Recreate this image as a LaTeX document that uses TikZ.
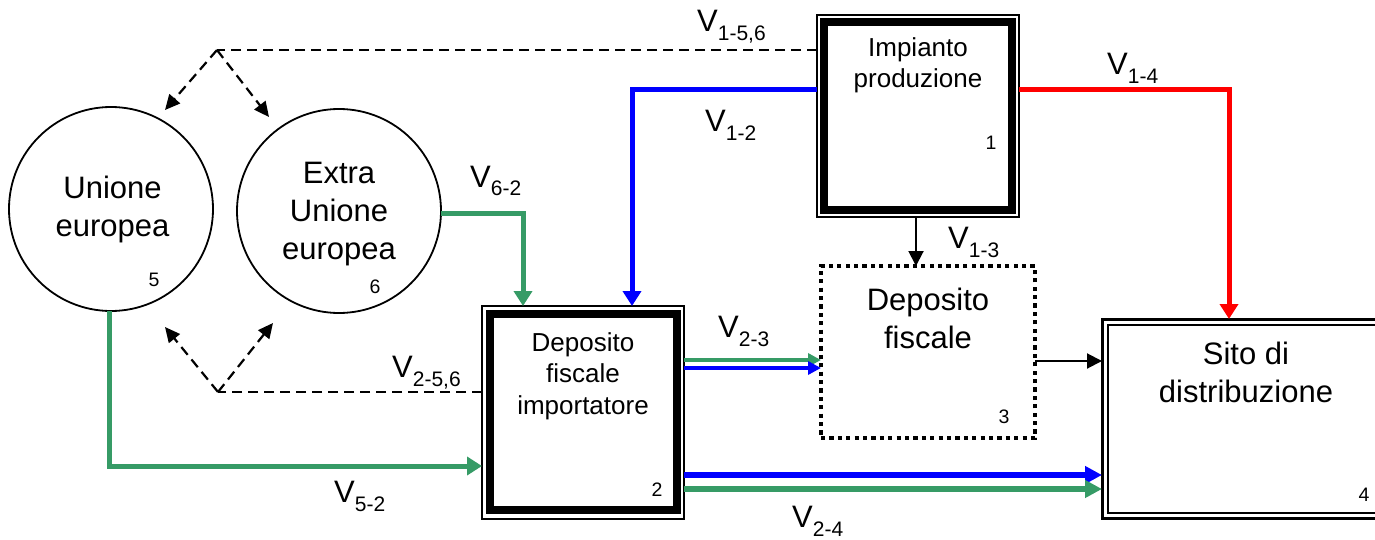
\documentclass[tikz,border=0pt]{standalone}
\usepackage{fontspec}
\setmainfont{Liberation Sans}
\usetikzlibrary{arrows.meta}
\definecolor{vgreen}{RGB}{54,155,102}
\newcommand\myfbig{\fontsize{31}{38}\selectfont}
\newcommand\myfmid{\fontsize{26}{31.5}\selectfont}
\newcommand\myfnum{\fontsize{19.5}{22}\selectfont}
\newcommand\vlab[1]{V\raisebox{-9pt}{\fontsize{21}{21}\selectfont #1}}
\begin{document}
\begin{tikzpicture}[x=1pt,y=-1pt,
  boxst/.style={rectangle,inner sep=0pt,outer sep=0pt,draw,line width=1.7pt},
  circst/.style={circle,inner sep=0pt,outer sep=0pt,draw,line width=1.8pt,minimum size=204pt},
  txtbig/.style={inner sep=0pt,align=center,font=\myfbig},
  txtmid/.style={inner sep=0pt,align=center,font=\myfmid},
  numst/.style={inner sep=0pt,font=\myfnum},
  vl/.style={inner sep=0pt,anchor=base west,font=\myfbig},
  bigtip/.style={-{Triangle[length=15pt,width=18pt]}},
  midtip/.style={-{Triangle[length=13pt,width=13pt]}},
  blk/.style={draw=black,line width=2pt,-{Triangle[length=15pt,width=15pt]}},
  dsh/.style={draw=black,line width=2.2pt,dash pattern=on 10pt off 6pt},
  dshtip/.style={-{Triangle[length=15pt,width=14pt]}},
  bl/.style={draw=blue,line width=5pt},
  rd/.style={draw=red,line width=5pt},
  gr/.style={draw=vgreen,line width=5pt}
]
\useasboundingbox (0,0) rectangle (1375,540);

% boxes
\node[boxst,minimum width=202pt,minimum height=202pt] (b1) at (918,116) {};
\draw[line width=8pt] ([shift={(7,7)}]b1.north west) rectangle ([shift={(-7,-7)}]b1.south east);
\node[boxst,minimum width=202pt,minimum height=213pt] (b2) at (583,412.5) {};
\draw[line width=8pt] ([shift={(8,8)}]b2.north west) rectangle ([shift={(-7.5,-9)}]b2.south east);
\node[rectangle,inner sep=0pt,outer sep=0pt,draw,line width=4pt,dash pattern=on 4.2pt off 4.2pt,
      minimum width=214pt,minimum height=172pt] (b3) at (928,352) {};
\node[rectangle,inner sep=0pt,outer sep=0pt,draw,line width=3pt,
      minimum width=283pt,minimum height=199pt] (b4) at (1243.5,418.5) {};
\draw[line width=2pt] ([shift={(5.5,5.5)}]b4.north west) rectangle ([shift={(-5.5,-5.5)}]b4.south east);

\node[circst] (c5) at (111,209) {};
\node[circst] (c6) at (339,211) {};

% texts
\node[txtmid,anchor=north] (t1) at (918,37) {Impianto\\produzione};
\node[numst] (n1) at (991,143) {1};
\node[txtmid,anchor=north] (t2) at (583,332) {Deposito\\fiscale\\importatore};
\node[numst] (n2) at (657,490) {2};
\node[txtbig,anchor=north] (t3) at (928,288) {Deposito\\fiscale};
\node[numst] (n3) at (1004,417) {3};
\node[txtbig,anchor=north] (t4) at (1246,342) {Sito di\\distribuzione};
\node[numst] (n4) at (1364,495) {4};
\node[txtbig,anchor=north] (t5) at (112.5,176) {Unione\\europea};
\node[numst] (n5) at (154,280) {5};
\node[txtbig,anchor=north] (t6) at (339,162) {Extra\\Unione\\europea};
\node[numst] (n6) at (375,287) {6};

% labels
\node[vl] (l156) at (697,32) {\vlab{1-5,6}};
\node[vl] (l12) at (705,132) {\vlab{1-2}};
\node[vl] (l14) at (1107,75) {\vlab{1-4}};
\node[vl] (l13) at (948,248) {\vlab{1-3}};
\node[vl] (l62) at (470,187) {\vlab{6-2}};
\node[vl] (l23) at (718,337) {\vlab{2-3}};
\node[vl] (l256) at (392,377) {\vlab{2-5,6}};
\node[vl] (l52) at (334,502) {\vlab{5-2}};
\node[vl] (l24) at (792,527) {\vlab{2-4}};

% routing coordinates
\coordinate (k12) at (632,90);
\coordinate (k14) at (1229,90);
\coordinate (k13) at (916,0);
\coordinate (k62) at (523,213);
\coordinate (k52) at (109,466);
\coordinate (k34) at (0,361);
\coordinate (kg23) at (0,360);
\coordinate (kb23) at (0,368);
\coordinate (kb24) at (0,475);
\coordinate (kg24) at (0,489);
\coordinate (kd1) at (217,50);
\coordinate (kd1a) at (165,110);
\coordinate (kd1b) at (269,117);
\coordinate (kd2) at (218,392);
\coordinate (kd2a) at (165,327);
\coordinate (kd2b) at (273,323);

% connectors
\draw[bl,bigtip] (b1.west |- k12) -- (k12) -- (k12 |- b2.north);
\draw[rd,bigtip] (b1.east |- k14) -- (k14) -- (k14 |- b4.north);
\draw[gr,bigtip] (c6.east |- k62) -- (k62) -- (k62 |- b2.north);
\draw[gr,bigtip] (c5.south -| k52) -- (k52) -- (b2.west |- k52);
\draw[blk] (b1.south -| k13) -- (b3.north -| k13);
\draw[blk] (b3.east |- k34) -- (b4.west |- k34);
\draw[draw=vgreen,line width=4pt,midtip] (b2.east |- kg23) -- (b3.west |- kg23);
\draw[draw=blue,line width=4pt,midtip] (b2.east |- kb23) -- (b3.west |- kb23);
\draw[bl,line width=5.5pt,-{Triangle[length=17pt,width=17pt]}] (b2.east |- kb24) -- (b4.west |- kb24);
\draw[gr,line width=5.5pt,-{Triangle[length=17pt,width=17pt]}] (b2.east |- kg24) -- (b4.west |- kg24);

\draw[dsh] (b1.west |- kd1) -- (kd1);
\draw[dsh,dshtip] (kd1) -- (kd1a);
\draw[dsh,dshtip] (kd1) -- (kd1b);
\draw[dsh] (b2.west |- kd2) -- (kd2);
\draw[dsh,dshtip] (kd2) -- (kd2a);
\draw[dsh,dshtip] (kd2) -- (kd2b);
\end{tikzpicture}
\end{document}
